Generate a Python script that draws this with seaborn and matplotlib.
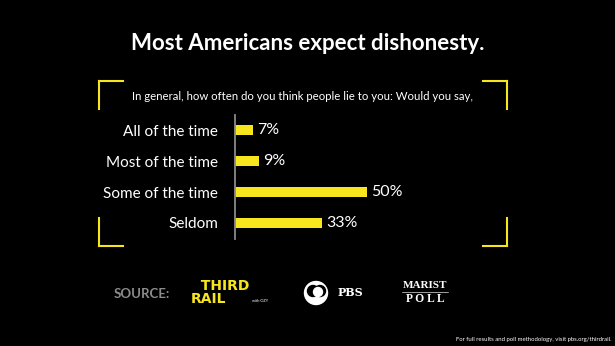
import matplotlib
matplotlib.use("Agg")
import matplotlib.pyplot as plt
import seaborn as sns
import pandas as pd
from matplotlib.patches import Circle

categories = ["All of the time", "Most of the time", "Some of the time", "Seldom"]
values = [7, 9, 50, 33]
value_labels = ["7%", "9%", "50%", "33%"]
title = "Most Americans expect dishonesty."
question = "In general, how often do you think people lie to you: Would you say,"
footer = "For full results and poll methodology, visit pbs.org/thirdrail."

YELLOW = "#f7e51e"
BG = "#000000"
W, H = 615, 346

sns.set_theme(style="white")
plt.rcParams["font.family"] = ["Lato", "DejaVu Sans"]

fig = plt.figure(figsize=(6.15, 3.46), dpi=100, facecolor=BG)

# background / decoration layer in pixel coordinates
bg = fig.add_axes([0, 0, 1, 1], zorder=0)
bg.set_xlim(0, W)
bg.set_ylim(H, 0)
bg.set_facecolor(BG)
bg.axis("off")

# chart axes
ax = fig.add_axes([235 / W, (H - 238.5) / H, 158 / W, 124 / H], zorder=2)
ax.set_facecolor("none")
df = pd.DataFrame({"category": categories, "value": values})
sns.barplot(data=df, x="value", y="category", color=YELLOW, width=0.35,
            saturation=1, linewidth=0, ax=ax, orient="h")
ax.set_xlim(0, 60)
ax.set_ylim(3.5, -0.5)
ax.set_xlabel("")
ax.set_ylabel("")
ax.set_xticks([])
for s in ["top", "right", "bottom"]:
    ax.spines[s].set_visible(False)
ax.spines["left"].set_color("#8a8a8a")
ax.spines["left"].set_linewidth(1.3)
ax.tick_params(axis="y", length=0, pad=12, labelsize=11, labelcolor="white")
ax.bar_label(ax.containers[0], labels=value_labels, padding=3,
             color="white", fontsize=11.5)

# title and question
bg.text(308, 44, title, color="white", fontsize=16, fontweight="bold",
        ha="center", va="center")
bg.text(303, 96, question, color="white", fontsize=8.2, ha="center", va="center")

# yellow corner brackets
lw = 1.5
for (x0, x1, xv) in [(99, 123, 99), (483, 507, 507)]:
    bg.plot([x0, x1], [81, 81], color=YELLOW, lw=lw, solid_capstyle="projecting")
    bg.plot([xv, xv], [81, 109], color=YELLOW, lw=lw, solid_capstyle="projecting")
    bg.plot([x0, x1], [246, 246], color=YELLOW, lw=lw, solid_capstyle="projecting")
    bg.plot([xv, xv], [218, 246], color=YELLOW, lw=lw, solid_capstyle="projecting")

# source row
bg.text(114, 294, "SOURCE:", color="#8c8c8c", fontsize=9.5, fontweight="bold",
        ha="left", va="center")
bg.text(191, 303, "  THIRD\nRAIL", color=YELLOW, fontsize=10, fontweight="bold",
        ha="left", va="baseline", multialignment="left", linespacing=0.9,
        family=["DejaVu Sans"])
bg.text(252, 300.5, "with OZY", color="white", fontsize=2.8, ha="left", va="center")

bg.add_patch(Circle((316, 293), 11.5, color="white"))
bg.add_patch(Circle((313, 291), 5.5, color="black"))
bg.add_patch(Circle((320, 291), 5.5, color="black"))
bg.add_patch(Circle((318, 292), 4.5, color="white"))
bg.text(338, 293, "PBS", color="white", fontsize=8, fontweight="bold",
        ha="left", va="center", family=["DejaVu Serif"])

bg.text(425, 285.5, "MARIST", color="white", fontsize=8, fontweight="bold",
        ha="center", va="center", family=["Liberation Serif"])
bg.plot([402, 448], [292, 292], color="#bbbbbb", lw=0.6)
bg.text(425, 299, "P O L L", color="white", fontsize=8.3, fontweight="bold",
        ha="center", va="center", family=["Liberation Serif"])

bg.text(611, 339, footer, color="white", fontsize=4.3, ha="right", va="center")

fig.savefig("out.png", dpi=100, facecolor=BG)
